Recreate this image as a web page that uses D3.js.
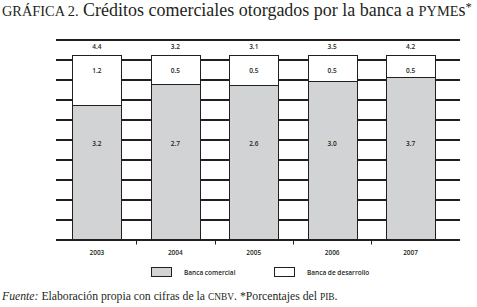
<!DOCTYPE html>
<html>
<head>
<meta charset="utf-8">
<script src="https://cdnjs.cloudflare.com/ajax/libs/d3/7.8.5/d3.min.js"></script>
<style>
  body { margin: 0; background: #fff; }
  svg { display: block; }
</style>
</head>
<body>
<svg id="svg" width="477" height="307"></svg>
<script>
// data (percent of GDP)
var years = ["2003", "2004", "2005", "2006", "2007"];
var comercial = [3.2, 2.7, 2.6, 3.0, 3.7];
var desarrollo = [1.2, 0.5, 0.5, 0.5, 0.5];
var totals = [4.4, 3.2, 3.1, 3.5, 4.2];
var seriesNames = ["Banca comercial", "Banca de desarrollo"];
var seriesColors = ["#d1d3d4", "#ffffff"];

var svg = d3.select("#svg");
var ink = "#231f20";
var sans = "'Open Sans', 'Liberation Sans', sans-serif";
var serif = "'Liberation Serif', 'DejaVu Serif', serif";

var rows = years.map(function(y, i) {
  return {year: y, comercial: comercial[i], desarrollo: desarrollo[i], total: totals[i]};
});

// the original draws every bar at the same height, so stack as shares
var stack = d3.stack()
  .keys(["comercial", "desarrollo"])
  .offset(d3.stackOffsetExpand);
var layers = stack(rows);

var x = d3.scaleBand()
  .domain(years)
  .range([57.5, 450])
  .paddingInner(0.375)
  .paddingOuter(0.19);

var y = d3.scaleLinear()
  .domain([0, 1])
  .range([240, 55]);

// horizontal rules every 20px, behind the bars
var grid = svg.append("g").attr("shape-rendering", "crispEdges");
d3.range(40, 240, 20).forEach(function(gy) {
  grid.append("line")
    .attr("x1", 56).attr("x2", 460)
    .attr("y1", gy).attr("y2", gy)
    .attr("stroke", ink)
    .attr("stroke-width", 1.4);
});

var bars = svg.append("g").attr("shape-rendering", "crispEdges");
layers.forEach(function(layer, li) {
  bars.selectAll(null)
    .data(layer)
    .enter().append("rect")
    .attr("x", function(d) { return Math.round(x(d.data.year)) + 0.5; })
    .attr("y", function(d) { return Math.round(y(d[1])) + 0.5; })
    .attr("width", Math.round(x.bandwidth()))
    .attr("height", function(d) { return Math.round(y(d[0])) - Math.round(y(d[1])); })
    .attr("fill", seriesColors[li])
    .attr("stroke", ink)
    .attr("stroke-width", 1.2);
});

// baseline and ticks between categories
svg.append("line")
  .attr("shape-rendering", "crispEdges")
  .attr("x1", 56).attr("x2", 460)
  .attr("y1", y(0)).attr("y2", y(0))
  .attr("stroke", ink).attr("stroke-width", 1.4);
years.slice(1).forEach(function(yr) {
  var tx = Math.round(x(yr) - x.step() * x.paddingInner() / 2) + 0.5;
  svg.append("line")
    .attr("x1", tx).attr("x2", tx)
    .attr("y1", y(0)).attr("y2", y(0) + 4.5)
    .attr("stroke", ink).attr("stroke-width", 1);
});

var labels = svg.append("g")
  .attr("font-family", sans)
  .attr("font-size", 6.5)
  .attr("font-weight", 600)
  .attr("fill", ink)
  .attr("text-anchor", "middle");

rows.forEach(function(d) {
  var cx = x(d.year) + x.bandwidth() / 2;
  labels.append("text").attr("x", cx).attr("y", 48.5).text(d.total.toFixed(1));
  labels.append("text").attr("x", cx).attr("y", y(1) + 18).text(d.desarrollo.toFixed(1));
  labels.append("text").attr("x", cx).attr("y", y(0.52) + 2).text(d.comercial.toFixed(1));
  labels.append("text").attr("x", cx).attr("y", 255).text(d.year);
});

// legend
var legend = svg.append("g");
[151, 274].forEach(function(lx, i) {
  legend.append("rect")
    .attr("x", lx + 0.5).attr("y", 267.5)
    .attr("width", 20).attr("height", 9)
    .attr("fill", seriesColors[i])
    .attr("stroke", ink).attr("stroke-width", 1);
  legend.append("text")
    .attr("x", lx + 33).attr("y", 274.5)
    .attr("font-family", sans).attr("font-size", 6.5)
    .attr("font-weight", 600)
    .attr("fill", ink)
    .text(seriesNames[i]);
});

// small caps drawn as reduced capitals
function smallCaps(sel, txt) {
  sel.append("tspan").attr("font-size", "0.8em").text(txt.toUpperCase());
}

// title
var title = svg.append("text")
  .attr("x", 2).attr("y", 16)
  .attr("font-family", serif)
  .attr("font-size", 16)
  .attr("fill", ink);
smallCaps(title, "gráfica 2.");
title.append("tspan").text(" Créditos comerciales otorgados por la banca a ");
smallCaps(title, "pyme");
title.append("tspan").text("s");
title.append("tspan").attr("font-size", "0.7em").attr("dy", -5).text("*");
var tw = title.node().getComputedTextLength();
title.attr("font-size", 16 * 470 / tw);

// source note
var note = svg.append("text")
  .attr("x", 2).attr("y", 300)
  .attr("font-family", serif)
  .attr("font-size", 11)
  .attr("fill", ink);
note.append("tspan").attr("font-style", "italic").text("Fuente:");
note.append("tspan").text(" Elaboración propia con cifras de la ");
smallCaps(note, "cnbv");
note.append("tspan").text(". *Porcentajes del ");
smallCaps(note, "pib");
note.append("tspan").text(".");
var nw = note.node().getComputedTextLength();
note.attr("font-size", 11 * 336 / nw);
</script>
</body>
</html>
